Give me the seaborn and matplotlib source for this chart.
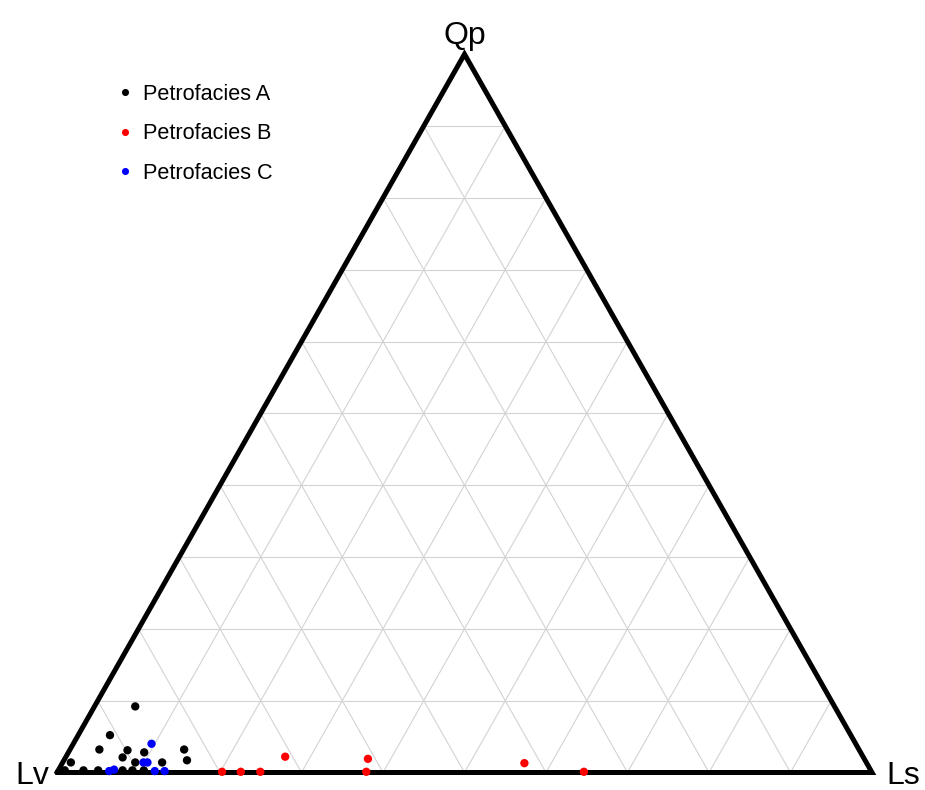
import matplotlib
matplotlib.use("Agg")
import matplotlib.pyplot as plt
import seaborn as sns
import pandas as pd
import numpy as np

# ternary compositions (percent): Qp top, Lv bottom-left, Ls bottom-right
qp_a = [9.2, 5.2, 3.2, 3.1, 2.1, 2.8, 3.2, 1.7, 1.4, 1.4, 1.4, 0.3, 0.3, 0.3, 0.3, 0.3, 0.3]
ls_a = [5.0, 3.9, 3.6, 7.1, 7.0, 9.3, 14.0, 15.1, 1.0, 8.9, 12.2, 0.8, 3.1, 4.9, 7.9, 9.1, 10.5]

qp_b = [0.1, 0.1, 0.1, 2.2, 1.9, 0.1, 1.3, 0.1]
ls_b = [20.2, 22.5, 24.9, 26.9, 37.2, 37.9, 56.7, 64.6]

qp_c = [4.0, 1.4, 1.4, 0.2, 0.4, 0.2, 0.2]
ls_c = [9.6, 9.9, 10.4, 6.3, 6.8, 11.9, 13.1]

groups = ["Petrofacies A", "Petrofacies B", "Petrofacies C"]
colors = ["black", "red", "blue"]

# ------- BUILD TABLE ---------

rows = []
for name, qp, ls in zip(groups, [qp_a, qp_b, qp_c], [ls_a, ls_b, ls_c]):
    for q, s in zip(qp, ls):
        rows.append({"Qp": q, "Ls": s, "Lv": 100 - q - s, "facies": name})
df = pd.DataFrame(rows)
df["x"] = df["Ls"] + df["Qp"] / 2
df["y"] = df["Qp"]

# ------- PLOT ---------

sns.set_style("white")
plt.rcParams["font.family"] = ["Liberation Sans", "DejaVu Sans"]
plt.rcParams["text.color"] = "black"

fig = plt.figure(figsize=(9.25, 7.9), dpi=100)
ax = fig.add_axes([57 / 925, 17.5 / 790, 815 / 925, 718.3 / 790])
ax.set_xlim(0, 100)
ax.set_ylim(0, 100)
ax.axis("off")

def tern(qp, ls):
    return ls + qp / 2, qp

# grid every 10 %
for k in range(10, 100, 10):
    # constant Qp
    x0, y0 = tern(k, 0)
    x1, y1 = tern(k, 100 - k)
    ax.plot([x0, x1], [y0, y1], color="#d3d3d3", lw=0.8, zorder=1)
    # constant Ls
    x0, y0 = tern(0, k)
    x1, y1 = tern(100 - k, k)
    ax.plot([x0, x1], [y0, y1], color="#d3d3d3", lw=0.8, zorder=1)
    # constant Lv
    x0, y0 = tern(0, 100 - k)
    x1, y1 = tern(100 - k, 0)
    ax.plot([x0, x1], [y0, y1], color="#d3d3d3", lw=0.8, zorder=1)

# outline
ax.plot([0, 100, 50, 0], [0, 0, 100, 0], color="black", lw=3.6,
        solid_joinstyle="miter", clip_on=False, zorder=2)

sns.scatterplot(data=df, x="x", y="y", hue="facies", hue_order=groups,
                palette=colors, s=36, linewidth=0, ax=ax, clip_on=False,
                zorder=3, legend=True)

# corner labels
ax.text(50, 100 + 10 / 7.183, "Qp", ha="center", va="baseline", fontsize=23, color="black")
ax.text(-42 / 8.15, -11 / 7.183, "Lv", ha="left", va="baseline", fontsize=23, color="black")
ax.text(819.5 / 8.15 + 1.2, -11 / 7.183, "Ls", ha="left", va="baseline", fontsize=23, color="black")

leg = ax.legend(loc="upper left", bbox_to_anchor=(95 / 925, 1 - 75 / 790),
                bbox_transform=fig.transFigure, frameon=False, fontsize=15.6,
                markerscale=0.85, handletextpad=-0.2, labelspacing=0.86,
                borderaxespad=0)
for t in leg.get_texts():
    t.set_color("black")

fig.savefig("out.png", dpi=100)
